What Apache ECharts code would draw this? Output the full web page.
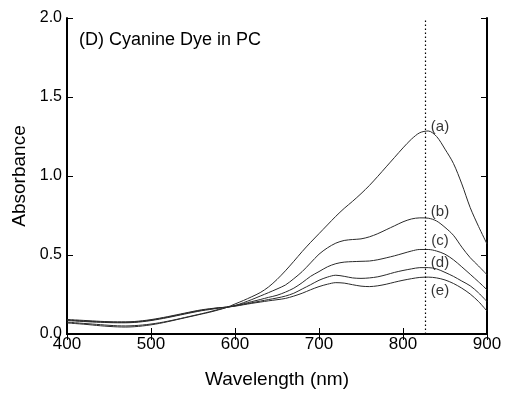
<!DOCTYPE html>
<html>
<head>
<meta charset="utf-8">
<script src="https://cdn.jsdelivr.net/npm/echarts@6/dist/echarts.min.js"></script>
<style>
  html, body { margin: 0; padding: 0; background: #fff; }
  #chart { width: 505px; height: 394px; }
</style>
</head>
<body>
<div id="chart"></div>
<script>
// wavelength grid (nm), 10 nm steps
const wavelengths = []
for (let w = 400; w <= 900; w += 10) wavelengths.push(w)

// absorbance, one value per 10 nm
const curveA = [0.070, 0.066, 0.062, 0.057, 0.052, 0.048, 0.045, 0.044, 0.046, 0.051,
  0.058, 0.067, 0.078, 0.090, 0.102, 0.114, 0.126, 0.138, 0.152, 0.168,
  0.190, 0.212, 0.236, 0.262, 0.298, 0.345, 0.400, 0.460, 0.522, 0.580,
  0.635, 0.690, 0.745, 0.795, 0.840, 0.888, 0.940, 0.998, 1.058, 1.118,
  1.178, 1.233, 1.274, 1.285, 1.250, 1.170, 1.080, 0.950, 0.800, 0.680, 0.570]
const curveB = [0.075, 0.071, 0.067, 0.063, 0.059, 0.055, 0.052, 0.051, 0.053, 0.057,
  0.063, 0.071, 0.081, 0.092, 0.104, 0.116, 0.128, 0.141, 0.155, 0.168,
  0.180, 0.198, 0.218, 0.240, 0.262, 0.285, 0.310, 0.350, 0.395, 0.450,
  0.505, 0.545, 0.575, 0.592, 0.598, 0.602, 0.615, 0.635, 0.660, 0.685,
  0.710, 0.728, 0.735, 0.733, 0.715, 0.675, 0.625, 0.550, 0.483, 0.430, 0.375]
const curveC = [0.085, 0.082, 0.079, 0.076, 0.074, 0.072, 0.071, 0.071, 0.073, 0.078,
  0.085, 0.094, 0.104, 0.115, 0.126, 0.137, 0.147, 0.155, 0.163, 0.170,
  0.180, 0.192, 0.205, 0.218, 0.232, 0.245, 0.265, 0.290, 0.325, 0.365,
  0.395, 0.425, 0.445, 0.455, 0.458, 0.460, 0.462, 0.470, 0.482, 0.495,
  0.510, 0.525, 0.535, 0.535, 0.525, 0.505, 0.470, 0.425, 0.378, 0.330, 0.280]
const curveD = [0.088, 0.085, 0.082, 0.079, 0.077, 0.075, 0.074, 0.074, 0.076, 0.081,
  0.088, 0.097, 0.107, 0.118, 0.129, 0.140, 0.150, 0.158, 0.165, 0.170,
  0.178, 0.188, 0.198, 0.208, 0.218, 0.228, 0.240, 0.258, 0.285, 0.312,
  0.340, 0.360, 0.372, 0.365, 0.355, 0.352, 0.355, 0.362, 0.375, 0.390,
  0.402, 0.412, 0.420, 0.420, 0.412, 0.390, 0.365, 0.335, 0.305, 0.260, 0.205]
const curveE = [0.092, 0.089, 0.086, 0.083, 0.080, 0.078, 0.077, 0.077, 0.079, 0.084,
  0.091, 0.100, 0.110, 0.121, 0.132, 0.143, 0.153, 0.160, 0.166, 0.170,
  0.176, 0.185, 0.194, 0.202, 0.210, 0.217, 0.225, 0.240, 0.258, 0.280,
  0.300, 0.315, 0.325, 0.322, 0.312, 0.303, 0.300, 0.305, 0.315, 0.328,
  0.340, 0.350, 0.358, 0.360, 0.355, 0.342, 0.320, 0.290, 0.253, 0.205, 0.145]

// curve tags and where they sit (wavelength, absorbance)
const tagText = ['(a)', '(b)', '(c)', '(d)', '(e)']
const tagX = [844, 844, 844, 844, 844]
const tagY = [1.308, 0.775, 0.587, 0.451, 0.274]

const peakLine = 826

const xTicks = [400, 500, 600, 700, 800, 900]
const yTicks = [0.0, 0.5, 1.0, 1.5, 2.0]

const font = 'Arial, "Liberation Sans", sans-serif'
const curves = [curveA, curveB, curveC, curveD, curveE]

const chart = echarts.init(document.getElementById('chart'))

const lineSeries = curves.map((vals, i) => ({
  type: 'line',
  data: wavelengths.map((w, j) => [w, vals[j]]),
  smooth: 0.3,
  showSymbol: false,
  lineStyle: { color: '#2a2a2a', width: 1 },
  animation: false,
  markLine: i === 0 ? {
    silent: true,
    symbol: 'none',
    label: { show: false },
    lineStyle: { color: '#000', type: [1.5, 2.5], width: 1.2 },
    data: [{ xAxis: peakLine }]
  } : undefined
}))

const frameAxis = {
  axisLine: { show: true, lineStyle: { color: '#000', width: 2 } },
  axisTick: { show: true, inside: true, length: 6, lineStyle: { color: '#000', width: 1 } },
  axisLabel: { show: false },
  splitLine: { show: false }
}

chart.setOption({
  animation: false,
  textStyle: { fontFamily: font },
  grid: { left: 67, right: 18, top: 18, bottom: 57 },
  graphic: [{
    type: 'text',
    left: 79,
    top: 31,
    style: { text: '(D) Cyanine Dye in PC', font: '18px ' + font, fill: '#000' }
  }],
  xAxis: [{
    type: 'value', min: xTicks[0], max: xTicks[xTicks.length - 1], interval: 100,
    name: 'Wavelength (nm)', nameLocation: 'middle', nameGap: 36,
    nameTextStyle: { fontSize: 19, color: '#000', fontFamily: font },
    axisLine: { lineStyle: { color: '#000', width: 2 } },
    axisTick: { inside: true, length: 6, lineStyle: { color: '#000', width: 1 } },
    axisLabel: { fontSize: 17, color: '#000', margin: 2, fontFamily: font },
    splitLine: { show: false }
  }, Object.assign({}, frameAxis, {
    type: 'value', position: 'top', min: 400, max: 900, interval: 100
  })],
  yAxis: [{
    type: 'value', min: yTicks[0], max: yTicks[yTicks.length - 1], interval: 0.5,
    name: 'Absorbance', nameLocation: 'middle', nameGap: 38,
    nameTextStyle: { fontSize: 19, color: '#000', fontFamily: font },
    axisLine: { show: true, lineStyle: { color: '#000', width: 2 } },
    axisTick: { show: true, inside: true, length: 6, lineStyle: { color: '#000', width: 1 } },
    axisLabel: { fontSize: 16, color: '#000', margin: 5, fontFamily: font,
      formatter: v => v.toFixed(1) },
    splitLine: { show: false }
  }, Object.assign({}, frameAxis, {
    type: 'value', position: 'right', min: 0, max: 2, interval: 0.5
  })],
  series: lineSeries.concat([{
    type: 'scatter',
    symbolSize: 0,
    silent: true,
    data: tagX.map((x, i) => [x, tagY[i], tagText[i]]),
    label: {
      show: true, position: 'inside',
      formatter: p => p.data[2],
      fontSize: 15, color: '#000', fontFamily: font
    }
  }])
})
</script>
</body>
</html>
